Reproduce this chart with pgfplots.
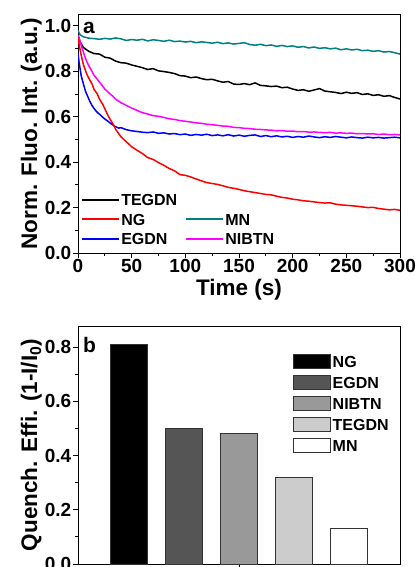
\documentclass[border=0pt]{standalone}
\usepackage{fontspec}
\setmainfont{Liberation Sans}
\usepackage{pgfplots}
\pgfplotsset{compat=1.18}
\definecolor{mnteal}{RGB}{0,128,128}
\definecolor{mred}{RGB}{255,0,0}
\definecolor{mblue}{RGB}{0,0,255}
\definecolor{mmag}{RGB}{255,0,255}
\definecolor{gA}{HTML}{555555}
\definecolor{gB}{HTML}{999999}
\definecolor{gC}{HTML}{CCCCCC}
\pgfplotsset{
  common/.style={
    scale only axis, width=322pt, height=238pt,
    axis line style={line width=1pt},
    tick align=outside, tick pos=left,
    major tick length=5pt, minor tick length=3pt,
    every tick/.style={black, line width=0.9pt},
    /pgf/number format/assume math mode=true,
    tick label style={font=\fontsize{19}{19}\selectfont\bfseries, inner sep=1.5pt},
    label style={font=\fontsize{22.5}{22.5}\selectfont\bfseries},
    yticklabel style={/pgf/number format/fixed, /pgf/number format/precision=1, /pgf/number format/fixed zerofill},
  }
}
\begin{document}
\begin{tikzpicture}
\begin{axis}[common,
  at={(78pt,-15pt)}, anchor=north west,
  xmin=0, xmax=300, ymin=0, ymax=1.048,
  xtick={0,50,...,300}, minor x tick num=1,
  ytick={0,0.2,...,1.0}, minor y tick num=1,
  xlabel={Time (s)}, ylabel={Norm. Fluo. Int. (a.u.)},
  xlabel style={yshift=-1pt},
  ylabel style={yshift=-2pt},
  legend columns=2,
  legend cell align=left,
  legend style={draw=none, fill=none, at={(axis description cs:0.008,0.255)}, anchor=north west,
    font=\fontsize{16}{16}\selectfont\bfseries, inner sep=0pt, row sep=5pt,
    nodes={inner sep=1.5pt, text height=11.5pt, text depth=0pt},
    /tikz/every even column/.append style={column sep=6pt}},
  legend image code/.code={\draw[#1] (0pt,0pt) -- (37pt,0pt);},
  legend image post style={line width=2pt},
  every axis plot/.append style={line width=1.5pt},
]
\addplot[mnteal, forget plot] coordinates {
(0,0.980)(2,0.960)(5,0.952)(10,0.946)(15,0.944)(20,0.941)(25,0.945)(30,0.942)(35,0.947)(40,0.943)(45,0.936)(50,0.940)(55,0.937)(60,0.941)(65,0.934)(70,0.939)(75,0.936)(80,0.932)(85,0.937)(90,0.931)(95,0.933)(100,0.929)(105,0.932)(110,0.926)(115,0.930)(120,0.927)(125,0.924)(130,0.928)(135,0.922)(140,0.925)(145,0.920)(150,0.923)(155,0.926)(160,0.918)(165,0.915)(170,0.919)(175,0.913)(180,0.916)(185,0.910)(190,0.914)(195,0.909)(200,0.912)(205,0.906)(210,0.909)(215,0.903)(220,0.907)(225,0.901)(230,0.904)(235,0.899)(240,0.902)(245,0.895)(250,0.899)(255,0.894)(260,0.897)(265,0.891)(270,0.893)(275,0.888)(280,0.891)(285,0.885)(290,0.887)(295,0.882)(300,0.876)};
\addplot[black, forget plot] coordinates {
(0,0.960)(2,0.930)(5,0.905)(10,0.888)(15,0.878)(20,0.876)(25,0.862)(30,0.858)(35,0.845)(40,0.838)(45,0.836)(50,0.828)(55,0.822)(60,0.816)(65,0.808)(70,0.812)(75,0.802)(80,0.799)(85,0.795)(90,0.790)(95,0.781)(100,0.779)(105,0.772)(110,0.775)(115,0.768)(120,0.763)(125,0.765)(130,0.758)(135,0.752)(140,0.755)(145,0.744)(150,0.742)(155,0.746)(160,0.741)(165,0.749)(170,0.738)(175,0.736)(180,0.733)(185,0.735)(190,0.728)(195,0.730)(200,0.722)(205,0.716)(210,0.719)(215,0.712)(220,0.718)(225,0.724)(230,0.713)(235,0.710)(240,0.707)(245,0.702)(250,0.708)(255,0.703)(260,0.706)(265,0.698)(270,0.701)(275,0.694)(280,0.697)(285,0.690)(290,0.693)(295,0.685)(300,0.678)};
\addplot[mmag, forget plot] coordinates {
(0,0.960)(2,0.930)(4,0.900)(6,0.870)(8,0.845)(10,0.825)(13,0.800)(15,0.782)(18,0.765)(20,0.752)(23,0.735)(25,0.722)(28,0.708)(30,0.700)(33,0.688)(35,0.678)(38,0.668)(40,0.662)(45,0.650)(50,0.638)(55,0.628)(60,0.618)(65,0.612)(70,0.605)(75,0.602)(80,0.597)(85,0.591)(90,0.588)(95,0.583)(100,0.580)(105,0.577)(110,0.573)(115,0.571)(120,0.567)(125,0.565)(130,0.562)(135,0.559)(140,0.558)(145,0.553)(150,0.552)(155,0.549)(160,0.548)(165,0.545)(170,0.544)(175,0.542)(180,0.541)(185,0.538)(190,0.539)(195,0.536)(200,0.537)(205,0.534)(210,0.535)(215,0.532)(220,0.533)(225,0.531)(230,0.530)(235,0.531)(240,0.528)(245,0.529)(250,0.527)(255,0.528)(260,0.525)(265,0.526)(270,0.524)(275,0.525)(280,0.522)(285,0.524)(290,0.521)(295,0.522)(300,0.520)};
\addplot[mblue, forget plot] coordinates {
(0,0.880)(1,0.840)(2,0.810)(3,0.780)(5,0.745)(7,0.712)(9,0.690)(11,0.668)(13,0.650)(15,0.636)(17,0.624)(19,0.615)(21,0.607)(23,0.598)(25,0.590)(28,0.580)(30,0.572)(33,0.562)(35,0.556)(38,0.550)(40,0.552)(45,0.543)(50,0.538)(55,0.535)(60,0.532)(65,0.530)(70,0.533)(75,0.527)(80,0.529)(85,0.524)(90,0.526)(95,0.521)(100,0.524)(105,0.518)(110,0.522)(115,0.519)(120,0.523)(125,0.517)(130,0.520)(135,0.516)(140,0.521)(145,0.515)(150,0.519)(155,0.514)(160,0.518)(165,0.520)(170,0.513)(175,0.517)(180,0.512)(185,0.516)(190,0.511)(195,0.514)(200,0.509)(205,0.513)(210,0.510)(215,0.515)(220,0.511)(225,0.508)(230,0.512)(235,0.509)(240,0.513)(245,0.510)(250,0.507)(255,0.511)(260,0.508)(265,0.506)(270,0.510)(275,0.507)(280,0.509)(285,0.506)(290,0.508)(295,0.510)(300,0.507)};
\addplot[mred, forget plot] coordinates {
(0,0.950)(1,0.920)(3,0.870)(5,0.830)(8,0.790)(10,0.770)(13,0.745)(15,0.720)(18,0.700)(20,0.678)(23,0.655)(25,0.635)(28,0.605)(30,0.588)(33,0.565)(35,0.545)(38,0.525)(40,0.512)(45,0.490)(50,0.468)(55,0.452)(60,0.438)(65,0.420)(70,0.412)(75,0.398)(80,0.386)(85,0.372)(90,0.362)(95,0.345)(100,0.342)(105,0.335)(110,0.326)(115,0.318)(120,0.310)(125,0.306)(130,0.302)(135,0.296)(140,0.289)(145,0.285)(150,0.280)(155,0.274)(160,0.270)(165,0.266)(170,0.262)(175,0.258)(180,0.256)(185,0.250)(190,0.245)(195,0.242)(200,0.237)(205,0.234)(210,0.230)(215,0.228)(220,0.225)(225,0.222)(230,0.220)(235,0.221)(240,0.215)(245,0.212)(250,0.210)(255,0.208)(260,0.206)(265,0.203)(270,0.200)(275,0.201)(280,0.196)(285,0.193)(290,0.190)(295,0.192)(300,0.188)};
\addlegendimage{black}\addlegendentry{TEGDN}
\addlegendimage{empty legend}\addlegendentry{}
\addlegendimage{mred}\addlegendentry{NG}
\addlegendimage{mnteal}\addlegendentry{MN}
\addlegendimage{mblue}\addlegendentry{EGDN}
\addlegendimage{mmag}\addlegendentry{NIBTN}
\node[anchor=north west, font=\fontsize{21}{21}\selectfont\bfseries, inner sep=0pt] at (axis description cs:0.015,0.97) {a};
\end{axis}
\begin{axis}[common,
  at={(78pt,-326pt)}, anchor=north west,
  xmin=0.07, xmax=5.93, ymin=0, ymax=0.878,
  xtick={3}, xticklabels={},
  ytick={0,0.2,...,0.8}, minor y tick num=1,
  ylabel={Quench. Effi. (1-I/I$_{\mathbf{0}}$)},
  ylabel style={yshift=-2pt},
  ybar, bar width=37pt, bar shift=0pt,
  legend cell align=left,
  legend style={draw=none, fill=none, at={(axis description cs:0.668,0.882)}, anchor=north west,
    font=\fontsize{16}{16}\selectfont\bfseries, inner sep=0pt, row sep=6pt,
    nodes={inner sep=1.5pt, text height=12pt, text depth=0pt}},
  legend image code/.code={\draw[#1] (0pt,-7pt) rectangle (37pt,7pt);},
  every axis plot/.append style={draw=black!80, line width=0.9pt},
]
\addplot[fill=black] coordinates {(1,0.81)};
\addlegendentry{NG}
\addplot[fill=gA] coordinates {(2,0.50)};
\addlegendentry{EGDN}
\addplot[fill=gB] coordinates {(3,0.48)};
\addlegendentry{NIBTN}
\addplot[fill=gC] coordinates {(4,0.32)};
\addlegendentry{TEGDN}
\addplot[fill=white] coordinates {(5,0.13)};
\addlegendentry{MN}
\node[anchor=north west, font=\fontsize{21}{21}\selectfont\bfseries, inner sep=0pt] at (axis description cs:0.015,0.955) {b};
\end{axis}
\pgfresetboundingbox
\path[use as bounding box] (0pt,0pt) rectangle (416pt,-567pt);
\end{tikzpicture}
\end{document}
